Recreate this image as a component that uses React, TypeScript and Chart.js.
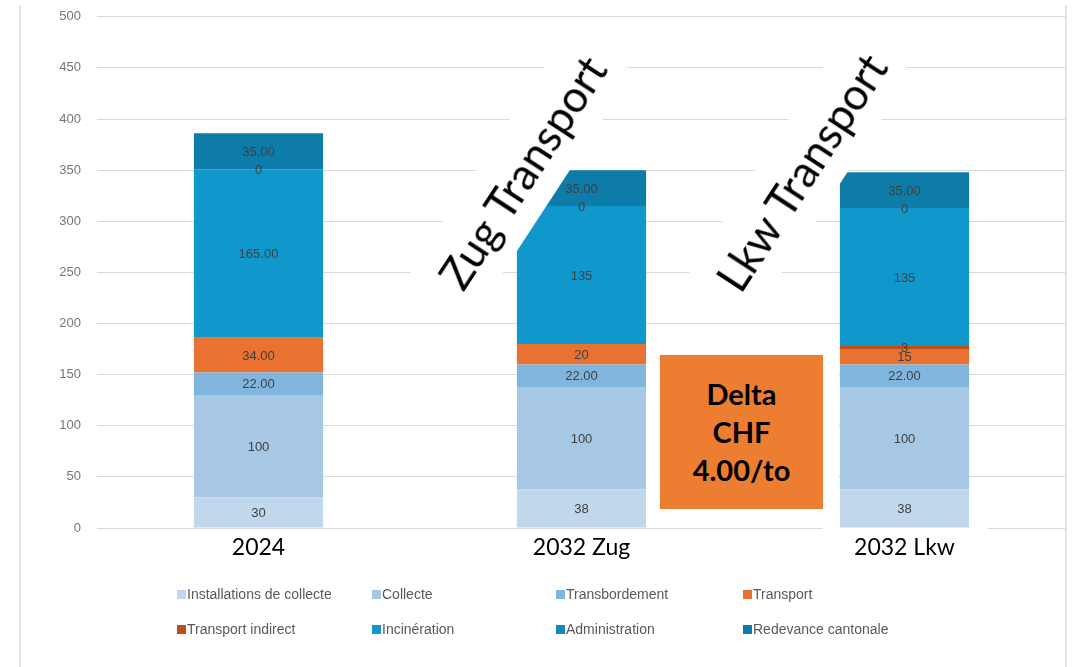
import React, { useEffect, useRef } from "react";
import { Chart, registerables } from "chart.js";

Chart.register(...registerables);

// ---------- data ----------
const categories = ["2024", "2032 Zug", "2032 Lkw"];

const seriesNames = [
  "Installations de collecte",
  "Collecte",
  "Transbordement",
  "Transport",
  "Transport indirect",
  "Incinération",
  "Administration",
  "Redevance cantonale",
];

const installations = [30, 38, 38];
const collecte = [100, 100, 100];
const transbordement = [22, 22, 22];
const transport = [34, 20, 15];
const transportIndirect = [0, 0, 3];
const incineration = [165, 135, 135];
const administration = [0, 0, 0];
const redevance = [35, 35, 35];

const installationsLabels = ["30", "38", "38"];
const collecteLabels = ["100", "100", "100"];
const transbordementLabels = ["22.00", "22.00", "22.00"];
const transportLabels = ["34.00", "20", "15"];
const transportIndirectLabels = ["", "", "3"];
const incinerationLabels = ["165.00", "135", "135"];
const administrationLabels = ["0", "0", "0"];
const redevanceLabels = ["35.00", "35.00", "35.00"];

const yMin = 0;
const yMax = 500;
const yStep = 50;

const overlayTexts = ["Zug Transport", "Lkw Transport"];
const deltaLines = ["Delta", "CHF", "4.00/to"];

// ---------- styles ----------
const seriesColors = [
  "#C1D8EC",
  "#A7C8E4",
  "#80B6DE",
  "#E97132",
  "#C04F15",
  "#1098CD",
  "#1287BA",
  "#0E7CA8",
];

const seriesValues = [
  installations,
  collecte,
  transbordement,
  transport,
  transportIndirect,
  incineration,
  administration,
  redevance,
];
const seriesLabels = [
  installationsLabels,
  collecteLabels,
  transbordementLabels,
  transportLabels,
  transportIndirectLabels,
  incinerationLabels,
  administrationLabels,
  redevanceLabels,
];

const segmentLabelPlugin = {
  id: "segmentLabels",
  beforeDatasetsDraw(chart: any) {
    // white label box behind the last category label (as in the slide)
    const meta = chart.getDatasetMeta(0);
    const bar = meta.data[2];
    if (!bar) return;
    const ctx = chart.ctx;
    ctx.save();
    ctx.fillStyle = "#ffffff";
    ctx.fillRect(bar.x - 82, chart.chartArea.bottom - 1, 165, 34);
    ctx.restore();
  },
  afterDatasetsDraw(chart: any) {
    const ctx = chart.ctx;
    ctx.save();
    ctx.font = "13px 'Liberation Sans', Arial, sans-serif";
    ctx.fillStyle = "#404040";
    ctx.textAlign = "center";
    ctx.textBaseline = "middle";
    chart.data.datasets.forEach((ds: any, di: number) => {
      const meta = chart.getDatasetMeta(di);
      meta.data.forEach((bar: any, i: number) => {
        const txt = ds.segLabels[i];
        if (!txt) return;
        const p = bar.getProps(["x", "y", "base"], true);
        ctx.fillText(txt, p.x, (p.y + p.base) / 2 + 1);
      });
    });
    ctx.restore();
  },
};

function BarChart() {
  const canvasRef = useRef<HTMLCanvasElement | null>(null);

  useEffect(() => {
    if (!canvasRef.current) return;
    const chart = new Chart(canvasRef.current, {
      type: "bar",
      data: {
        labels: categories,
        datasets: seriesNames.map((name, i) => ({
          label: name,
          data: seriesValues[i],
          segLabels: seriesLabels[i],
          backgroundColor: seriesColors[i],
          borderWidth: 0,
          categoryPercentage: 1,
          barPercentage: 0.4,
        })) as any,
      },
      options: {
        animation: false,
        responsive: true,
        maintainAspectRatio: false,
        layout: { padding: { top: 8, right: 10, left: 0, bottom: 0 } },
        plugins: {
          legend: { display: false },
          tooltip: { enabled: false },
        },
        scales: {
          x: {
            stacked: true,
            grid: { display: false, drawTicks: false },
            border: { display: false },
            ticks: {
              z: 1,
              color: "#000000",
              padding: 6,
              font: { family: "Lato, 'Noto Sans', sans-serif", size: 23 },
            },
            afterFit: (scale: any) => {
              scale.height = 146;
            },
          },
          y: {
            stacked: true,
            min: yMin,
            max: yMax,
            grid: { color: "#D9D9D9", lineWidth: 1, drawTicks: false },
            border: { display: false },
            ticks: {
              stepSize: yStep,
              padding: 16,
              color: "#767676",
              font: { family: "'Liberation Sans', Arial, sans-serif", size: 13 },
            },
            afterFit: (scale: any) => {
              scale.width = 97;
            },
          },
        },
      },
      plugins: [segmentLabelPlugin],
    });
    return () => chart.destroy();
  }, []);

  return <canvas ref={canvasRef} />;
}

const overlayCenters = [
  { x: 522, y: 172 },
  { x: 801, y: 172 },
];

const legendColumns = [177, 372, 556, 743];
const legendRows = [594, 629];

export default function App() {
  return (
    <div
      style={{
        position: "fixed",
        left: 0,
        top: 0,
        width: 1076,
        height: 667,
        background: "#ffffff",
        overflow: "hidden",
      }}
    >
      <div style={{ position: "absolute", left: 0, top: -7, width: 1076, height: 681 }}>
        <BarChart />
      </div>

      {/* frame lines */}
      <div style={{ position: "absolute", left: 19, top: 5, width: 2, height: 662, background: "#E4E4E4" }} />
      <div style={{ position: "absolute", left: 1065, top: 5, width: 2, height: 662, background: "#E4E4E4" }} />

      {/* rotated transport captions */}
      {overlayTexts.map((t, i) => (
        <div
          key={t}
          style={{
            position: "absolute",
            left: overlayCenters[i].x - 145,
            top: overlayCenters[i].y - 39,
            width: 290,
            height: 78,
            background: "#ffffff",
            transform: "rotate(-56.8deg)",
            display: "flex",
            alignItems: "center",
            justifyContent: "center",
            fontFamily: "Lato, 'Noto Sans', sans-serif",
            fontSize: 44,
            color: "#000000",
            whiteSpace: "nowrap",
          }}
        >
          {t}
        </div>
      ))}

      {/* delta box */}
      <div
        style={{
          position: "absolute",
          left: 646,
          top: 340,
          width: 192,
          height: 185,
          background: "#ffffff",
        }}
      >
        <div
          style={{
            position: "absolute",
            left: 14,
            top: 15,
            width: 163,
            height: 154,
            background: "#ED7D31",
            display: "flex",
            flexDirection: "column",
            alignItems: "center",
            justifyContent: "center",
            fontFamily: "Lato, 'Noto Sans', sans-serif",
            fontWeight: 700,
            fontSize: 29,
            lineHeight: "38px",
            color: "#000000",
          }}
        >
          {deltaLines.map((l) => (
            <div key={l}>{l}</div>
          ))}
        </div>
      </div>

      {/* legend */}
      {seriesNames.map((name, i) => {
        const col = i % 4;
        const row = Math.floor(i / 4);
        return (
          <div
            key={name}
            style={{
              position: "absolute",
              left: legendColumns[col],
              top: legendRows[row] - 10,
              height: 20,
              display: "flex",
              alignItems: "center",
              fontFamily: "'Liberation Sans', Arial, sans-serif",
              fontSize: 14,
              color: "#595959",
              whiteSpace: "nowrap",
            }}
          >
            <span
              style={{
                display: "inline-block",
                width: 9,
                height: 9,
                background: seriesColors[i],
                marginRight: 1,
              }}
            />
            {name}
          </div>
        );
      })}
    </div>
  );
}
